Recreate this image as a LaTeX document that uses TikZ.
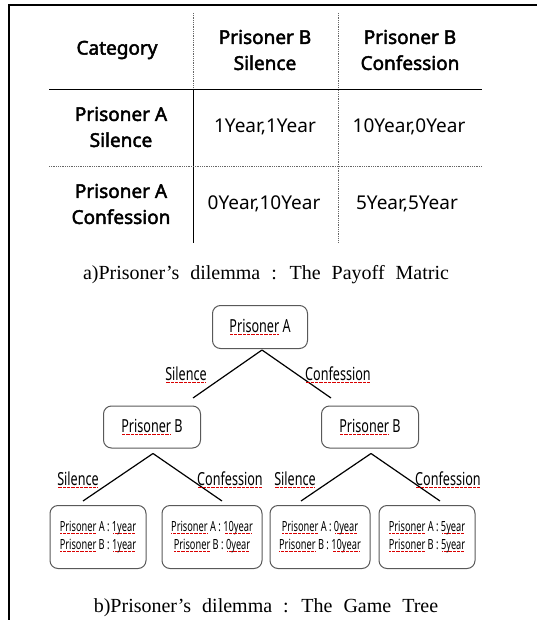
\documentclass[tikz,border=0pt]{standalone}
\usepackage{fontspec}
\setmainfont{Liberation Serif}
\newfontfamily\tabfont{Noto Sans}
\newfontfamily\tabbold[FakeBold=2.4]{Noto Sans}
\newfontfamily\treefont[FakeStretch=0.70]{Noto Sans}
\newfontfamily\leaffont[FakeStretch=0.66]{Noto Sans}
\newdimen\sqw
\newsavebox\sqbox
\newcommand\squig[1]{\sbox\sqbox{#1}\sqw=\wd\sqbox\leavevmode\rlap{\usebox\sqbox}{\color{red!85!black}\leaders\hbox to 1.3pt{\hss\rule[-2.2pt]{0.7pt}{0.7pt}\hss}\hskip\sqw}}
\tikzset{
  dotline/.style={gray!80!black, line width=0.7pt, dash pattern=on 0.9pt off 0.9pt},
  solidline/.style={black, line width=0.9pt},
  hd/.style={align=center, inner sep=0pt, font=\tabbold\fontsize{19}{26}\selectfont},
  cell/.style={inner sep=0pt, font=\tabfont\fontsize{19}{24}\selectfont},
  captxt/.style={inner sep=0pt, font=\fontsize{20}{24}\selectfont},
  rbox/.style={draw=gray!70!black, line width=1pt, rounded corners=8pt, inner sep=0pt, align=center, font=\treefont\fontsize{18}{20}\selectfont},
  leaf/.style={rbox, minimum height=63pt, font=\leaffont\fontsize{14}{18}\selectfont},
  tline/.style={black, line width=1.2pt},
  lab/.style={inner sep=0pt, font=\treefont\fontsize{18}{20}\selectfont}
}
\begin{document}
\begin{tikzpicture}[x=1pt,y=-1pt]
\useasboundingbox (0,0) rectangle (537,620);
\draw[line width=1.5pt] (9,620) -- (9,5) -- (537,5);
% table
\draw[dotline] (193,13) -- (193,89);
\draw[solidline] (193,89) -- (193,243);
\draw[dotline] (338,13) -- (338,243);
\draw[solidline] (49,89) -- (482,89);
\draw[dotline] (49,166) -- (482,166);
\node[hd] (cat) at (117,50) {Category};
\node[hd] (hbs) at (265,50) {Prisoner B\\Silence};
\node[hd] (hbc) at (410,50) {Prisoner B\\Confession};
\node[hd] (ras) at (121,127) {Prisoner A\\Silence};
\node[cell] (c11) at (265,127) {1Year,1Year};
\node[cell] (c12) at (409,127) {10Year,0Year};
\node[hd] (rac) at (121,204) {Prisoner A\\Confession};
\node[cell] (c21) at (264,204) {0Year,10Year};
\node[cell] (c22) at (407,204) {5Year,5Year};
\node[captxt] (capa) at (266,275) {\spaceskip=11pt\relax a)Prisoner’s dilemma : The Payoff Matric};
% tree
\node[rbox, minimum width=95pt, minimum height=43pt] (pa) at (260,327) {\squig{Prisoner} A};
\node[rbox, minimum width=97pt, minimum height=42pt] (pbl) at (152,427) {\squig{Prisoner} B};
\node[rbox, minimum width=97pt, minimum height=42pt] (pbr) at (370,427) {\squig{Prisoner} B};
\node[leaf, minimum width=96pt] (l1) at (98,537) {\squig{Prisoner} A : \squig{1year}\\\squig{Prisoner} B : \squig{1year}};
\node[leaf, minimum width=100pt] (l2) at (212,537) {\squig{Prisoner} A : \squig{10year}\\\squig{Prisoner} B : \squig{0year}};
\node[leaf, minimum width=100pt] (l3) at (320,537) {\squig{Prisoner} A : \squig{0year}\\\squig{Prisoner} B : \squig{10year}};
\node[leaf, minimum width=96pt] (l4) at (427,537) {\squig{Prisoner} A : \squig{5year}\\\squig{Prisoner} B : \squig{5year}};
\coordinate (paL) at (193,398);
\coordinate (paR) at (331,398);
\coordinate (pblL) at (83,501);
\coordinate (pblR) at (222,501);
\coordinate (pbrL) at (301,501);
\coordinate (pbrR) at (440,501);
\draw[tline] ([xshift=2pt,yshift=-1pt]pa.south) -- (paL);
\draw[tline] ([xshift=2pt,yshift=-1pt]pa.south) -- (paR);
\draw[tline] ([xshift=1pt,yshift=-5pt]pbl.south) -- (pblL);
\draw[tline] ([xshift=1pt,yshift=-5pt]pbl.south) -- (pblR);
\draw[tline] ([xshift=1pt,yshift=-5pt]pbr.south) -- (pbrL);
\draw[tline] ([xshift=1pt,yshift=-5pt]pbr.south) -- (pbrR);
\node[lab] (s1) at (186,375) {\squig{Silence}};
\node[lab] (c1) at (338,375) {\squig{Confession}};
\node[lab] (s2) at (78,480) {\squig{Silence}};
\node[lab] (c2) at (230,480) {\squig{Confession}};
\node[lab] (s3) at (295,480) {\squig{Silence}};
\node[lab] (c3) at (448,480) {\squig{Confession}};
\node[captxt] (capb) at (266,608) {\spaceskip=11pt\relax b)Prisoner’s dilemma : The Game Tree};
\end{tikzpicture}
\end{document}
